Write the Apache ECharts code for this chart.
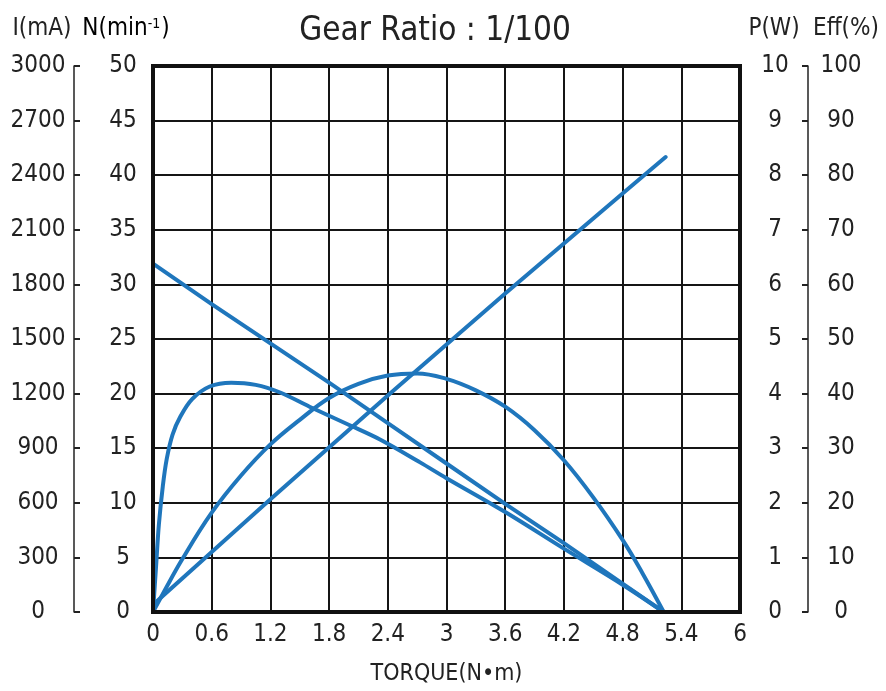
<!DOCTYPE html>
<html>
<head>
<meta charset="utf-8">
<script src="https://cdn.jsdelivr.net/npm/echarts@6/dist/echarts.min.js"></script>
<style>
html,body{margin:0;padding:0;background:#fff;overflow:hidden;}
#chart{width:886px;height:691px;}
</style>
</head>
<body>
<div id="chart"></div>
<script>
// ---- data ----
const torqueTicks = ['0','0.6','1.2','1.8','2.4','3','3.6','4.2','4.8','5.4','6'];

// Speed N (min^-1) vs torque (N·m)
const speedData = [[0,31.9],[0.6,28.2],[1.2,24.6],[1.8,21.0],[2.4,17.3],[3.0,13.6],[3.6,9.9],[4.2,6.3],[4.8,2.6],[5.22,0]];

// Current I (mA) vs torque
const currentData = [[0,40],[1.2,620],[2.4,1190],[3.6,1750],[4.8,2300],[5.24,2500]];

// Output power P (W) vs torque
const powerData = [[0,0],[0.1,0.33],[0.3,0.97],[0.6,1.82],[0.9,2.5],[1.2,3.07],[1.5,3.52],[1.8,3.92],[2.1,4.18],[2.4,4.33],[2.7,4.37],[3.0,4.27],[3.3,4.06],[3.6,3.76],[3.9,3.33],[4.2,2.78],[4.5,2.1],[4.8,1.32],[5.0,0.72],[5.22,0]];

// Efficiency Eff (%) vs torque
const effData = [[0,0],[0.03,8],[0.06,16],[0.1,23],[0.14,28],[0.2,32.5],[0.28,35.8],[0.4,39],[0.58,41.3],[0.8,42],[1.05,41.6],[1.3,40.2],[1.6,37.6],[2.0,34.3],[2.32,31.6],[2.73,27.4],[3.0,24.5],[3.6,18.3],[4.2,11.6],[4.8,5.0],[5.22,0]];

const FONT = '"Liberation Sans Narrow","DejaVu Sans Condensed",sans-serif';
const TXT = '#222';
const BLUE = '#1f76bc';

const chart = echarts.init(document.getElementById('chart'), null, {renderer:'canvas'});

const lineSeries = (data, yi, smooth) => ({
  type:'line', data, yAxisIndex:yi, xAxisIndex:0, showSymbol:false, symbol:'none',
  smooth: smooth,
  lineStyle:{color:BLUE, width:4, cap:'round', join:'round'},
  silent:true, animation:false, z:5
});

const plain = v => String(Math.round(v*100)/100);

chart.setOption({
  animation:false,
  backgroundColor:'#fff',
  grid:{left:153, right:146, top:66, bottom:67, show:true, borderColor:'#111', borderWidth:4, backgroundColor:'transparent', z:10},
  graphic:[
    {type:'text', x:435, y:31, style:{text:'Gear Ratio : 1/100', font:'33px '+FONT, fill:TXT, textAlign:'center', textVerticalAlign:'middle'}},
    {type:'text', x:42, y:29, style:{text:'I(mA)', font:'24px '+FONT, fill:TXT, textAlign:'center', textVerticalAlign:'middle'}},
    {type:'text', x:126, y:29, style:{
      text:'{a|N(min}{s|-1}{a|)}', textAlign:'center', textVerticalAlign:'middle',
      rich:{a:{fontFamily:FONT, fontSize:24, color:TXT}, s:{fontFamily:FONT, fontSize:14, color:TXT, verticalAlign:'top', padding:[0,1,10,0]}}
    }},
    {type:'text', x:774, y:29, style:{text:'P(W)', font:'24px '+FONT, fill:TXT, textAlign:'center', textVerticalAlign:'middle'}},
    {type:'text', x:846, y:29, style:{text:'Eff(%)', font:'24px '+FONT, fill:TXT, textAlign:'center', textVerticalAlign:'middle'}}
  ],
  xAxis:{
    type:'value', min:0, max:6, interval:0.6,
    name:'TORQUE(N\u2022m)', nameLocation:'middle', nameGap:51,
    nameTextStyle:{fontFamily:FONT, fontSize:23, color:TXT},
    axisLine:{show:false}, axisTick:{show:false},
    axisLabel:{fontFamily:FONT, fontSize:24, color:TXT, margin:11,
      formatter:(v, i)=> torqueTicks[i] !== undefined ? torqueTicks[i] : ''},
    splitLine:{show:true, lineStyle:{color:'#151515', width:2}}
  },
  yAxis:[
    { // N
      type:'value', min:0, max:50, interval:5, position:'left', offset:0,
      axisLine:{show:false}, axisTick:{show:false},
      axisLabel:{fontFamily:FONT, fontSize:24, color:TXT, align:'center', margin:30, formatter:plain},
      splitLine:{show:true, lineStyle:{color:'#151515', width:2}}
    },
    { // I
      type:'value', min:0, max:3000, interval:300, position:'left', offset:79,
      axisLine:{show:true, lineStyle:{color:'#222', width:1.5}},
      axisTick:{show:true, inside:true, length:6, lineStyle:{color:'#222', width:2}},
      axisLabel:{fontFamily:FONT, fontSize:24, color:TXT, align:'center', margin:36, formatter:plain},
      splitLine:{show:false}
    },
    { // P
      type:'value', min:0, max:10, interval:1, position:'right', offset:0,
      axisLine:{show:false}, axisTick:{show:false},
      axisLabel:{fontFamily:FONT, fontSize:24, color:TXT, align:'center', margin:35, formatter:plain},
      splitLine:{show:false}
    },
    { // Eff
      type:'value', min:0, max:100, interval:10, position:'right', offset:68,
      axisLine:{show:true, lineStyle:{color:'#222', width:1.5}},
      axisTick:{show:true, inside:true, length:6, lineStyle:{color:'#222', width:2}},
      axisLabel:{fontFamily:FONT, fontSize:24, color:TXT, align:'center', margin:33, formatter:plain},
      splitLine:{show:false}
    }
  ],
  series:[
    lineSeries(speedData, 0, false),
    lineSeries(currentData, 1, false),
    lineSeries(powerData, 2, 0.4),
    lineSeries(effData, 3, 0.35)
  ]
});
</script>
</body>
</html>
